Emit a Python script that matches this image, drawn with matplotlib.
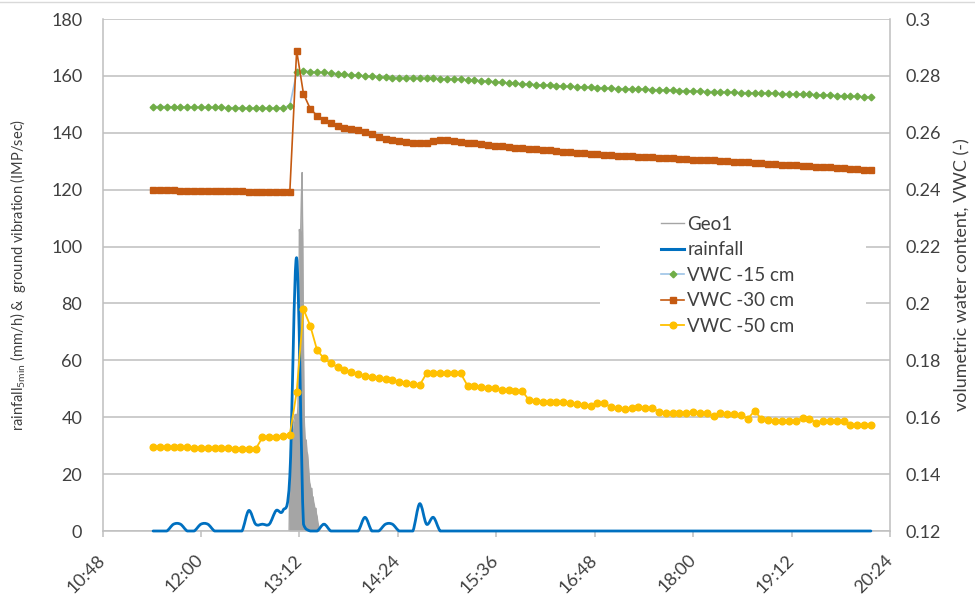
import numpy as np
import matplotlib
matplotlib.use('Agg')
import matplotlib.pyplot as plt
from matplotlib.path import Path
from matplotlib.patches import PathPatch, Rectangle
from matplotlib.lines import Line2D
from matplotlib.ticker import FuncFormatter

plt.rcParams['font.family'] = ['Lato', 'DejaVu Sans']
plt.rcParams['mathtext.fontset'] = 'custom'
plt.rcParams['mathtext.rm'] = 'Lato'

# logger time stamps, minutes after midnight (11:25 ... 20:10, every 5 min)
times = np.arange(11 * 60 + 25, 20 * 60 + 15, 5)

# rainfall intensity of each 5 min interval (mm/h)
rain = [0.0, 0.0, 0.0, 2.4, 2.4, 0.0, 0.0, 2.4, 2.4, 0.0,
        0.0, 0.0, 0.0, 0.0, 7.2, 2.4, 2.4, 2.4, 7.2, 7.2,
        19.2, 96.0, 2.4, 0.0, 0.0, 2.4, 0.0, 0.0, 0.0, 0.0,
        0.0, 4.8, 0.0, 0.0, 2.4, 2.4, 0.0, 0.0, 0.0, 9.6,
        2.4, 4.8] + [0.0] * 64

# volumetric water content (-)
vwc15 = [0.2692, 0.2692, 0.2692, 0.2691, 0.2691, 0.2690, 0.2690, 0.2690, 0.2689, 0.2689,
         0.2689, 0.2688, 0.2688, 0.2688, 0.2687, 0.2687, 0.2687, 0.2687, 0.2687, 0.2688,
         0.2695,
         0.2812, 0.2817, 0.2815, 0.2813, 0.2812, 0.2810, 0.2808, 0.2805, 0.2804, 0.2802,
         0.2800, 0.2798, 0.2796, 0.2795, 0.2794, 0.2793, 0.2792, 0.2792, 0.2791, 0.2791,
         0.2791, 0.2790, 0.2790, 0.2789, 0.2788, 0.2786, 0.2785, 0.2783, 0.2781, 0.2779,
         0.2777, 0.2775, 0.2774, 0.2772, 0.2771, 0.2769, 0.2768, 0.2767, 0.2766, 0.2764,
         0.2763, 0.2762, 0.2761, 0.2760, 0.2759, 0.2758, 0.2756, 0.2755, 0.2755, 0.2754,
         0.2754, 0.2753, 0.2752, 0.2751, 0.2750, 0.2749, 0.2748, 0.2748, 0.2747, 0.2746,
         0.2745, 0.2745, 0.2744, 0.2743, 0.2742, 0.2741, 0.2741, 0.2740, 0.2740, 0.2739,
         0.2739, 0.2738, 0.2737, 0.2736, 0.2735, 0.2735, 0.2734, 0.2733, 0.2732, 0.2731,
         0.2730, 0.2729, 0.2728, 0.2727, 0.2726]

vwc30 = [0.2399, 0.2399, 0.2398, 0.2398, 0.2397, 0.2396, 0.2396, 0.2396, 0.2395, 0.2395,
         0.2395, 0.2394, 0.2394, 0.2394, 0.2393, 0.2393, 0.2393, 0.2392, 0.2392, 0.2392,
         0.2391,
         0.2889, 0.2737, 0.2684, 0.2660, 0.2646, 0.2633, 0.2625, 0.2618, 0.2614, 0.2610,
         0.2604, 0.2596, 0.2586, 0.2579, 0.2574, 0.2570, 0.2567, 0.2565, 0.2565, 0.2565,
         0.2570, 0.2573, 0.2573, 0.2570, 0.2567, 0.2565, 0.2563, 0.2561, 0.2557, 0.2554,
         0.2552, 0.2550, 0.2548, 0.2546, 0.2544, 0.2542, 0.2540, 0.2538, 0.2536, 0.2533,
         0.2531, 0.2529, 0.2528, 0.2526, 0.2525, 0.2523, 0.2522, 0.2520, 0.2519, 0.2518,
         0.2516, 0.2515, 0.2514, 0.2512, 0.2511, 0.2510, 0.2509, 0.2508, 0.2506, 0.2505,
         0.2504, 0.2503, 0.2502, 0.2500, 0.2499, 0.2498, 0.2496, 0.2495, 0.2493, 0.2491,
         0.2490, 0.2488, 0.2487, 0.2485, 0.2484, 0.2482, 0.2480, 0.2479, 0.2478, 0.2476,
         0.2475, 0.2473, 0.2472, 0.2470, 0.2469]

vwc50 = [0.1496, 0.1496, 0.1495, 0.1495, 0.1494, 0.1494, 0.1493, 0.1493, 0.1492, 0.1492,
         0.1491, 0.1491, 0.1490, 0.1490, 0.1489, 0.1488,
         0.1529, 0.1529, 0.1532, 0.1535, 0.1538,
         0.1688, 0.1980, 0.1921, 0.1835, 0.1807, 0.1790, 0.1776, 0.1766, 0.1758, 0.1752,
         0.1745, 0.1741, 0.1737, 0.1733, 0.1730, 0.1725, 0.1721, 0.1717, 0.1713,
         0.1754, 0.1754, 0.1754, 0.1754, 0.1754, 0.1754,
         0.1711, 0.1709, 0.1707, 0.1704, 0.1701, 0.1697, 0.1695, 0.1692, 0.1691,
         0.1661, 0.1658, 0.1655, 0.1655, 0.1652, 0.1652, 0.1649, 0.1646, 0.1643, 0.1640,
         0.1649, 0.1649, 0.1635, 0.1631, 0.1628, 0.1631, 0.1635, 0.1634, 0.1632, 0.1620,
         0.1614, 0.1614, 0.1616, 0.1616, 0.1619, 0.1616, 0.1614, 0.1604, 0.1614, 0.1611,
         0.1611, 0.1608, 0.1594, 0.1623, 0.1593, 0.1590, 0.1588, 0.1588, 0.1588, 0.1588,
         0.1596, 0.1594, 0.1581, 0.1588, 0.1588, 0.1588, 0.1588, 0.1573, 0.1573, 0.1573,
         0.1573]

# ground vibration Geo1 (IMP/sec), 30 s resolution around the storm peak
geo_t = np.arange(784.5, 807.01, 0.5)
geo1 = [0, 20, 28, 32, 34, 36, 38, 39, 40, 41,
        40, 41, 40, 44, 62, 106, 104, 106, 118, 126,
        100, 65, 40, 34, 30, 32, 28, 27, 24, 20,
        17, 16, 14, 15, 12, 12, 10, 9, 7, 8,
        6, 5, 3, 2, 1, 0]

xticks = np.arange(10 * 60 + 48, 20 * 60 + 25, 72)


def smooth_path(x, y):
    # excel style smoothed line: cubic bezier through the points,
    # control points kept >= 0 so the curve does not dip under the axis
    x = np.asarray(x, float)
    y = np.asarray(y, float)
    px = np.concatenate([[x[0]], x, [x[-1]]])
    py = np.concatenate([[y[0]], y, [y[-1]]])
    verts = [(x[0], y[0])]
    codes = [Path.MOVETO]
    for i in range(len(x) - 1):
        c1 = (px[i + 1] + (px[i + 2] - px[i]) / 6,
              max(0.0, py[i + 1] + (py[i + 2] - py[i]) / 6))
        c2 = (px[i + 2] - (px[i + 3] - px[i + 1]) / 6,
              max(0.0, py[i + 2] - (py[i + 3] - py[i + 1]) / 6))
        verts += [c1, c2, (px[i + 2], py[i + 2])]
        codes += [Path.CURVE4] * 3
    return Path(verts, codes)


W, H = 975, 594
fig = plt.figure(figsize=(W / 100, H / 100), dpi=100)
ax = fig.add_axes([102.5 / W, 63 / H, 787.5 / W, 512 / H])
ax2 = ax.twinx()

txt = '#404040'
grid = '#BFBFBF'

# left axis: ground vibration and rainfall
ax.fill_between(geo_t, geo1, 0, color='#A5A5A5', lw=0, zorder=2)
geo_line, = ax.plot(geo_t, geo1, color='#A5A5A5', lw=1, zorder=2)

rain_patch = PathPatch(smooth_path(times, rain), fill=False, ec='#0070C0',
                       lw=2.0, zorder=3, joinstyle='round', capstyle='round')
ax.add_patch(rain_patch)
rain_patch.set_clip_path(Rectangle((0, -0.006), 1, 1.012, transform=ax.transAxes))
rain_handle = Line2D([], [], color='#0070C0', lw=2.2)

ax.set_xlim(648, 1224)
ax.set_ylim(0, 180)
ax.set_yticks(range(0, 181, 20))
ax.set_xticks(xticks)
ax.xaxis.set_major_formatter(FuncFormatter(lambda v, p: f'{int(v) // 60}:{int(v) % 60:02d}'))
ax.yaxis.grid(True, color=grid, lw=1.1)
ax.set_axisbelow(True)

# white legend area hides the grid like in excel
ax.add_patch(Rectangle((600 / W, 1 - 342 / H), 266 / W, 135 / H, transform=fig.transFigure,
                       facecolor='white', edgecolor='none', zorder=1))

# right axis: soil moisture
l15, = ax2.plot(times, vwc15, color='#9DC3E6', lw=1.2, marker='D', ms=3.4,
                mfc='#70AD47', mec='#70AD47')
l30, = ax2.plot(times, vwc30, color='#C55A11', lw=1.2, marker='s', ms=3.8,
                mfc='#C55A11', mec='#C55A11')
l50, = ax2.plot(times, vwc50, color='#FFC000', lw=1.3, marker='o', ms=4.8,
                mfc='#FFC000', mec='#FFC000')
ax2.set_ylim(0.12, 0.30)
ax2.set_yticks(np.arange(0.12, 0.301, 0.02))
ax2.yaxis.set_major_formatter(FuncFormatter(lambda v, p: f'{v:.2f}'.rstrip('0').rstrip('.')))

for a in (ax, ax2):
    a.spines['top'].set_visible(False)
ax.spines['right'].set_visible(False)
ax2.spines['left'].set_visible(False)
ax2.spines['bottom'].set_visible(False)
ax.spines['left'].set_color(grid)
ax.spines['bottom'].set_color(grid)
ax2.spines['right'].set_color(grid)
for s in ('left', 'bottom'):
    ax.spines[s].set_linewidth(1.1)
ax2.spines['right'].set_linewidth(1.1)

ax.tick_params(axis='y', length=0, pad=14.5, labelsize=13, labelcolor=txt)
ax.tick_params(axis='x', length=4, color=grid, width=1.1, pad=15, labelsize=13,
               labelcolor=txt, labelrotation=45)
plt.setp(ax.get_xticklabels(), ha='right', va='center', rotation_mode='anchor')
ax2.tick_params(axis='y', length=0, pad=11.5, labelsize=13, labelcolor=txt)

ax.set_ylabel(r'rainfall$_{\mathregular{5min}}$ (mm/h) &  ground vibration (IMP/sec)',
              fontsize=10.5, color=txt)
ax.yaxis.set_label_coords(-0.094, 0.5)
ax2.set_ylabel('volumetric water content, VWC (-)', fontsize=13, color=txt)
ax2.yaxis.set_label_coords(1.082, 0.5)

ax2.legend([geo_line, rain_handle, l15, l30, l50],
           ['Geo1', 'rainfall', 'VWC -15 cm', 'VWC -30 cm', 'VWC -50 cm'],
           loc='upper left', bbox_to_anchor=(661 / W, 1 - 216 / H),
           bbox_transform=fig.transFigure, frameon=False, fontsize=13.5,
           handlelength=1.25, handletextpad=0.15, labelspacing=0.45,
           borderpad=0, borderaxespad=0, labelcolor=txt)

fig.add_artist(Line2D([0, 1], [1 - 2 / H, 1 - 2 / H], transform=fig.transFigure,
                      color='#D9D9D9', lw=1))

fig.savefig('out.png', dpi=100)
